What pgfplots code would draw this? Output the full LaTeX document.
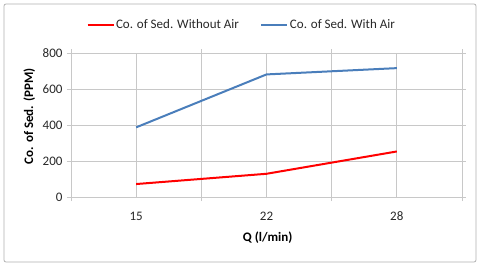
\documentclass[border=0pt]{standalone}
\usepackage{fontspec}
\setmainfont{Carlito}
\usepackage{pgfplots}
\pgfplotsset{compat=1.18}
\definecolor{redline}{RGB}{255,0,0}
\definecolor{blueline}{RGB}{74,126,187}
\definecolor{gridgray}{RGB}{200,200,200}
\definecolor{txt}{RGB}{40,40,40}
\begin{document}
\begin{tikzpicture}[x=1pt,y=1pt]
\path[fill=white] (0,0) rectangle (480,266);
\draw[gray!60, line width=0.8pt, rounded corners=2pt] (4,4) rectangle (476,262);
\begin{axis}[
  at={(71pt,69pt)}, anchor=south west,
  scale only axis, width=391pt, height=144pt,
  xmin=0, xmax=6, ymin=0, ymax=800,
  xtick={0,1,...,6},
  xticklabels={,15,,22,,28,},
  ytick={0,200,400,600,800},
  major tick length=0pt,
  extra x ticks={0,2,4,6},
  extra x tick labels={},
  extra x tick style={major tick length=4pt, tick align=outside, grid=none},
  extra y ticks={0,200,400,600,800},
  extra y tick labels={},
  extra y tick style={major tick length=4pt, tick align=outside, grid=none},
  grid=major,
  grid style={gridgray, line width=0.7pt},
  axis line style={gridgray, line width=0.7pt},
  tick style={gridgray, line width=0.7pt},
  /pgf/number format/assume math mode=true,
  ticklabel style={font=\fontsize{13}{15}\selectfont, text=txt},
  xticklabel style={yshift=-11.5pt},
  yticklabel style={xshift=-5pt},
  xlabel={Q (l/min)},
  ylabel={Co. of Sed. (PPM)},
  label style={font=\fontsize{13}{15}\selectfont\bfseries, text=black},
  xlabel style={at={(axis description cs:0.503,-0.285)}, anchor=center},
  ylabel style={at={(axis description cs:-0.107,0.56)}, anchor=center},
  legend columns=2,
  legend style={at={(0.436,1.197)}, anchor=center, draw=none, fill=none,
    font=\fontsize{13}{15}\selectfont, text=txt,
    /tikz/every even column/.append style={column sep=20pt},
    nodes={inner sep=1.5pt}},
  legend image code/.code={\draw[#1] (0pt,0pt) -- (26pt,0pt);},
]
\addplot[redline, line width=2pt] coordinates {(1,72) (3,129) (5,253)};
\addlegendentry{Co. of Sed. Without Air}
\addplot[blueline, line width=2pt] coordinates {(1,387) (3,681) (5,716)};
\addlegendentry{Co. of Sed. With Air}
\end{axis}
\end{tikzpicture}
\end{document}
